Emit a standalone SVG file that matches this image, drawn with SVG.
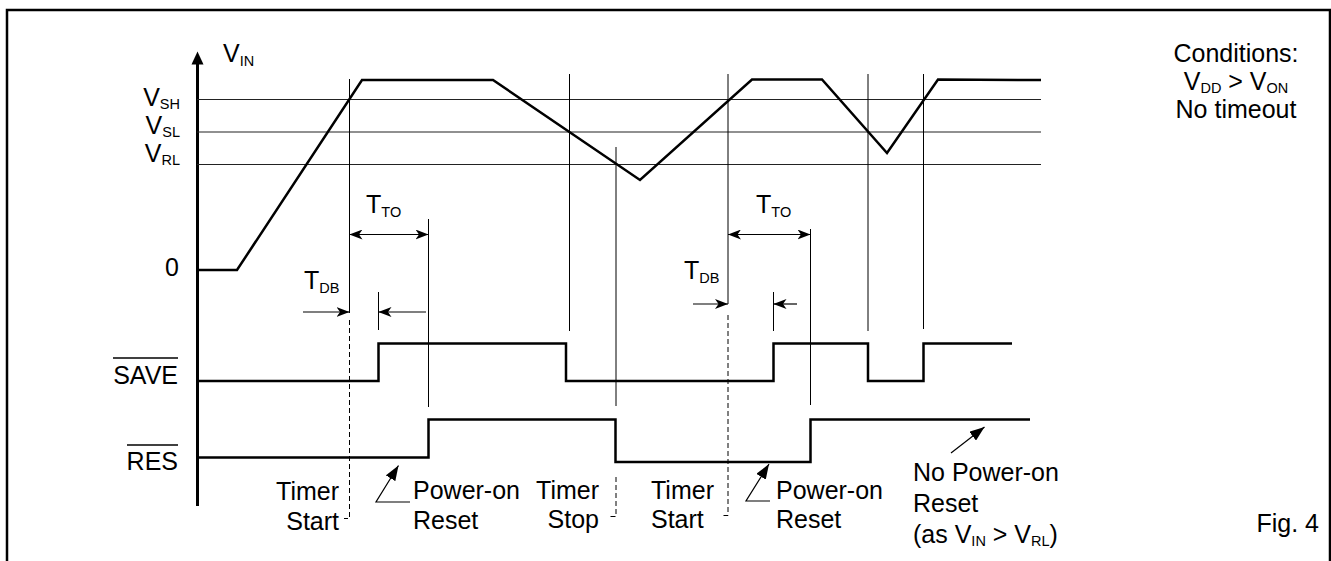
<svg xmlns="http://www.w3.org/2000/svg" width="1331" height="561" viewBox="0 0 1331 561">
<style>
text{font-family:"Liberation Sans",Arial,Helvetica,sans-serif;font-size:25px;fill:#000}
.sub{font-size:14.5px}
.thin{stroke:#000;stroke-width:1;fill:none}
.grid{stroke:#222;stroke-width:1.2;fill:none}
.dash{stroke:#000;stroke-width:1;fill:none;stroke-dasharray:5 3}
.wave{stroke:#000;stroke-width:2.5;fill:none;stroke-linejoin:miter}
.dim{stroke:#000;stroke-width:1.2;fill:none}
.ptr{stroke:#000;stroke-width:1.2;fill:none}
</style>
<defs>
<marker id="stealth" markerUnits="userSpaceOnUse" viewBox="0 0 13 10" refX="13" refY="5" markerWidth="13" markerHeight="10" orient="auto-start-reverse">
<path d="M0,0 L13,5 L0,10 L3.5,5 z" fill="#000"/>
</marker>
<marker id="tri" markerUnits="userSpaceOnUse" viewBox="0 0 15 11" refX="15" refY="5.5" markerWidth="15" markerHeight="11" orient="auto">
<path d="M0,0 L15,5.5 L0,11 z" fill="#000"/>
</marker>
</defs>
<rect width="1331" height="561" fill="#fff"/>
<g id="frame"><path d="M7,561 V10 H1330 V561" fill="none" stroke="#000" stroke-width="2.5"/></g>
<g id="axis">
<line x1="197.5" y1="62" x2="197.5" y2="506" stroke="#000" stroke-width="3"/>
<path d="M191.5,64.5 L197.5,51.5 L203.5,64.5 z" fill="#000"/>
</g>
<g id="thresholds" class="grid">
<line x1="197" y1="99.5" x2="1041" y2="99.5"/>
<line x1="197" y1="132" x2="1041" y2="132"/>
<line x1="197" y1="164.5" x2="1041" y2="164.5"/>
</g>
<g id="connectors">
<g id="verticals" class="thin">
<line x1="349.5" y1="79" x2="349.5" y2="313"/>
<line x1="378.5" y1="292" x2="378.5" y2="330"/>
<line x1="428.5" y1="219" x2="428.5" y2="407"/>
<line x1="569.5" y1="74" x2="569.5" y2="331"/>
<line x1="616" y1="147" x2="616" y2="406"/>
<line x1="728" y1="74" x2="728" y2="304"/>
<line x1="773.5" y1="292" x2="773.5" y2="331"/>
<line x1="810.5" y1="229" x2="810.5" y2="405"/>
<line x1="868" y1="74" x2="868" y2="331"/>
<line x1="923.5" y1="74" x2="923.5" y2="329"/>
</g>
<g id="dashed" class="dash">
<path d="M349.5,320 V518.5 H344"/>
<path d="M616,477 V516.5 H609"/>
<path d="M728,315 V515.5 H721"/>
</g>
<g id="dimension-arrows" class="dim">
<line x1="349.5" y1="234.5" x2="428.5" y2="234.5" marker-start="url(#stealth)" marker-end="url(#stealth)"/>
<line x1="303" y1="312" x2="349.5" y2="312" marker-end="url(#stealth)"/>
<line x1="426" y1="312" x2="378.5" y2="312" marker-end="url(#stealth)"/>
<line x1="728" y1="234.5" x2="810.5" y2="234.5" marker-start="url(#stealth)" marker-end="url(#stealth)"/>
<line x1="693" y1="304" x2="728" y2="304" marker-end="url(#stealth)"/>
<line x1="797" y1="304" x2="773.5" y2="304" marker-end="url(#stealth)"/>
</g>
<g id="pointers" class="ptr">
<path d="M410,502 H376 L398.5,465.5" marker-end="url(#tri)"/>
<path d="M770,501 H746 L769,464" marker-end="url(#tri)"/>
<path d="M951,453 L984.5,427" marker-end="url(#tri)"/>
</g>
</g>
<g id="waveforms">
<polyline id="vin" class="wave" points="197,270 237,270 362,80 493,80 640,180 752,79.5 822,79.5 887,153 938,79.5 1041,80"/>
<polyline id="save" class="wave" points="197,381 378.5,381 378.5,343.5 566,343.5 566,381 773.5,381 773.5,343.5 868,343.5 868,381 923.5,381 923.5,343.5 1012,343.5"/>
<polyline id="res" class="wave" points="197,457.5 428.5,457.5 428.5,419.5 615.5,419.5 615.5,462 810.5,462 810.5,419.5 1030,419.5"/>
</g>
<g id="labels">
<text x="223" y="62">V<tspan class="sub" dy="4">IN</tspan></text>
<text x="180" y="106" text-anchor="end">V<tspan class="sub" dy="3">SH</tspan></text>
<text x="180" y="134" text-anchor="end">V<tspan class="sub" dy="3">SL</tspan></text>
<text x="180" y="162" text-anchor="end">V<tspan class="sub" dy="3">RL</tspan></text>
<text x="179" y="276" text-anchor="end">0</text>
<g id="save-label"><text x="178" y="384" text-anchor="end">SAVE</text><line x1="113" y1="358" x2="178" y2="358" stroke="#000" stroke-width="1.5"/></g>
<g id="res-label"><text x="178" y="470" text-anchor="end">RES</text><line x1="127" y1="445" x2="178" y2="445" stroke="#000" stroke-width="1.5"/></g>
<text x="366" y="213">T<tspan class="sub" dy="4">TO</tspan></text>
<text x="304" y="289">T<tspan class="sub" dy="4">DB</tspan></text>
<text x="756" y="213">T<tspan class="sub" dy="4">TO</tspan></text>
<text x="684" y="279">T<tspan class="sub" dy="4">DB</tspan></text>
<g id="conditions" text-anchor="middle">
<text x="1236" y="62">Conditions:</text>
<text x="1236" y="90">V<tspan class="sub" dy="3">DD</tspan><tspan dy="-3"> &gt; V</tspan><tspan class="sub" dy="3">ON</tspan></text>
<text x="1236" y="118">No timeout</text>
</g>
<g id="timer-start-1" text-anchor="end"><text x="339" y="500">Timer</text><text x="339" y="530">Start</text></g>
<g id="por-1"><text x="413" y="499">Power-on</text><text x="413" y="529">Reset</text></g>
<g id="timer-stop" text-anchor="end"><text x="599" y="499">Timer</text><text x="599" y="528">Stop</text></g>
<g id="timer-start-2"><text x="651" y="499">Timer</text><text x="651" y="528">Start</text></g>
<g id="por-2"><text x="776" y="499">Power-on</text><text x="776" y="528">Reset</text></g>
<g id="no-por"><text x="913" y="481">No Power-on</text><text x="913" y="512">Reset</text><text x="913" y="543">(as V<tspan class="sub" dy="3">IN</tspan><tspan dy="-3"> &gt; V</tspan><tspan class="sub" dy="3">RL</tspan><tspan dy="-3">)</tspan></text></g>
<text x="1319" y="532" text-anchor="end">Fig. 4</text>
</g>
</svg>
